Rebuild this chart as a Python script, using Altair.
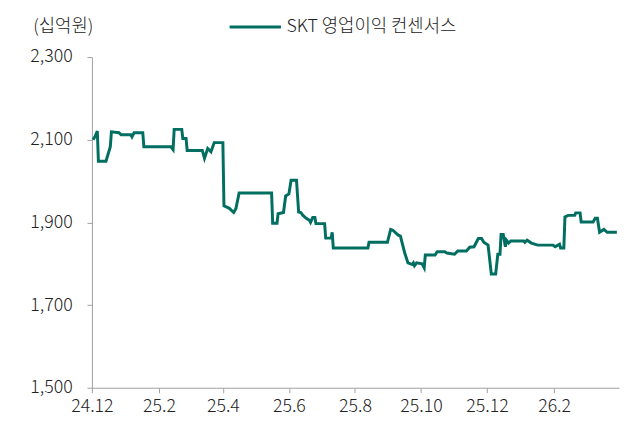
import altair as alt
import pandas as pd

SERIES = "SKT 영업이익 컨센서스"
UNIT = "(십억원)"
FONT = "Noto Sans CJK KR"
LINE_COLOR = "#006E60"

dates = [
    "2024-12-02", "2024-12-04", "2024-12-06", "2024-12-07", "2024-12-14",
    "2024-12-18", "2024-12-19", "2024-12-26", "2024-12-28", "2025-01-06",
    "2025-01-07", "2025-01-09", "2025-01-17", "2025-01-18", "2025-02-12",
    "2025-02-14", "2025-02-15", "2025-02-22", "2025-02-23", "2025-02-26",
    "2025-02-27", "2025-03-13", "2025-03-15", "2025-03-18", "2025-03-21",
    "2025-03-24", "2025-04-01", "2025-04-02", "2025-04-07", "2025-04-11",
    "2025-04-13", "2025-04-16", "2025-05-16", "2025-05-17", "2025-05-21",
    "2025-05-22", "2025-05-27", "2025-05-29", "2025-06-01", "2025-06-03",
    "2025-06-08", "2025-06-10", "2025-06-12", "2025-06-14", "2025-06-17",
    "2025-06-20", "2025-06-21", "2025-06-23", "2025-06-25", "2025-06-26",
    "2025-07-04", "2025-07-05", "2025-07-10", "2025-07-11", "2025-07-12",
    "2025-08-13", "2025-08-14", "2025-08-31", "2025-09-03", "2025-09-05",
    "2025-09-10", "2025-09-12", "2025-09-16", "2025-09-19", "2025-09-23",
    "2025-09-24", "2025-09-25", "2025-09-27", "2025-10-02", "2025-10-04",
    "2025-10-05", "2025-10-14", "2025-10-16", "2025-10-23", "2025-10-25",
    "2025-11-01", "2025-11-04", "2025-11-12", "2025-11-15", "2025-11-19",
    "2025-11-23", "2025-11-26", "2025-11-28", "2025-12-02", "2025-12-05",
    "2025-12-09", "2025-12-11", "2025-12-13", "2025-12-14", "2025-12-16",
    "2025-12-18", "2025-12-19", "2025-12-21", "2025-12-23", "2026-01-04",
    "2026-01-05", "2026-01-07", "2026-01-11", "2026-01-17", "2026-01-31",
    "2026-02-02", "2026-02-06", "2026-02-07", "2026-02-10", "2026-02-11",
    "2026-02-14", "2026-02-20", "2026-02-21", "2026-02-25", "2026-02-26",
    "2026-03-09", "2026-03-11", "2026-03-13", "2026-03-15", "2026-03-19",
    "2026-03-22", "2026-03-31",
]

values = [
    2100, 2108, 2121, 2048, 2048,
    2083, 2119, 2117, 2112, 2112,
    2107, 2117, 2117, 2083, 2083,
    2076, 2125, 2125, 2103, 2103,
    2074, 2074, 2055, 2079, 2071,
    2093, 2093, 1940, 1934, 1924,
    1933, 1971, 1971, 1898, 1898,
    1921, 1924, 1964, 1969, 2002,
    2002, 1925, 1924, 1917, 1910,
    1905, 1900, 1912, 1912, 1897,
    1897, 1862, 1862, 1876, 1838,
    1838, 1852, 1852, 1883, 1881,
    1869, 1867, 1826, 1802, 1798,
    1802, 1795, 1802, 1800, 1790,
    1821, 1821, 1829, 1829, 1826,
    1823, 1831, 1831, 1840, 1841,
    1861, 1861, 1852, 1845, 1775,
    1775, 1823, 1823, 1871, 1871,
    1841, 1857, 1850, 1855, 1855,
    1852, 1857, 1850, 1845, 1845,
    1841, 1847, 1838, 1838, 1913,
    1917, 1917, 1923, 1923, 1901,
    1901, 1910, 1910, 1876, 1883,
    1876, 1876,
]

y_ticks = [1500, 1700, 1900, 2100, 2300]
x_tick_months = [(2024, 12), (2025, 2), (2025, 4), (2025, 6), (2025, 8),
                 (2025, 10), (2025, 12), (2026, 2)]

df = pd.DataFrame({
    "date": pd.to_datetime(dates),
    "value": values,
    "series": [SERIES] * len(dates),
})

x_values = [alt.DateTime(year=y, month=m, date=1) for y, m in x_tick_months]

chart = alt.Chart(df).mark_line(strokeWidth=3).encode(
    x=alt.X(
        "date:T",
        scale=alt.Scale(domain=[alt.DateTime(year=2024, month=12, date=1),
                                alt.DateTime(year=2026, month=4, date=2)]),
        axis=alt.Axis(values=x_values, format="%y.%-m", title=None,
                      tickSize=5, labelPadding=5, labelFlush=False),
    ),
    y=alt.Y(
        "value:Q",
        scale=alt.Scale(domain=[1500, 2300], nice=False, zero=False),
        axis=alt.Axis(values=y_ticks, format=",.0f", title=UNIT,
                      titleAngle=0, titleAlign="left", titleBaseline="middle",
                      titleX=-60, titleY=-31, titleFontSize=18,
                      titleFontWeight=300, titleColor="#222222",
                      titleFont=FONT, tickSize=5, labelPadding=15),
    ),
    color=alt.Color(
        "series:N",
        scale=alt.Scale(range=[LINE_COLOR]),
        legend=alt.Legend(title=None, orient="none", legendX=138, legendY=-58,
                          symbolType="stroke", symbolSize=2704,
                          symbolStrokeWidth=3, labelFontSize=18,
                          labelFont=FONT, labelColor="#222222",
                          labelFontWeight=300, labelLimit=400,
                          labelOffset=4, padding=0),
    ),
).properties(
    width=534,
    height=335,
    autosize=alt.AutoSizeParams(type="none"),
    padding={"left": 85, "top": 47, "right": 4, "bottom": 31},
).configure_axis(
    grid=False,
    domainColor="#A0A0A0",
    tickColor="#A0A0A0",
    labelColor="#222222",
    labelFont=FONT,
    labelFontSize=18,
    labelFontWeight=300,
).configure_view(stroke=None)

chart.save("out.html", embed_options={"renderer": "svg", "actions": False})
